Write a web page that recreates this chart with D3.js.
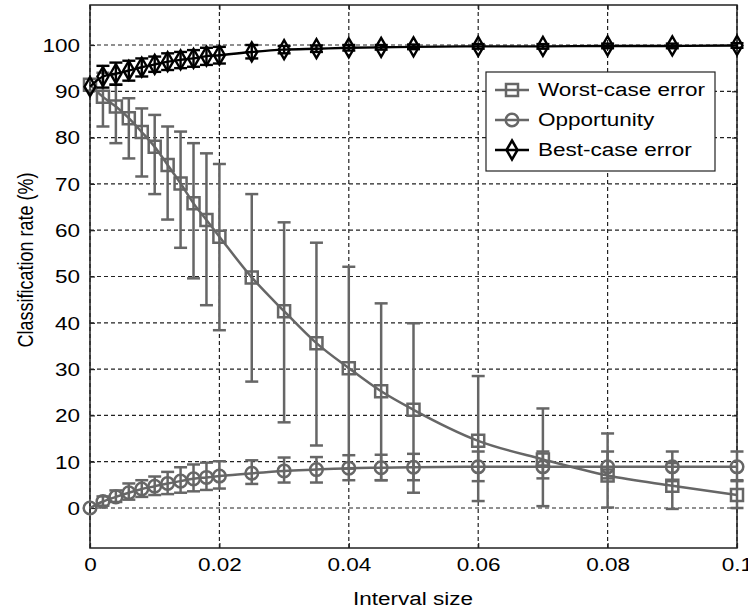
<!DOCTYPE html>
<html>
<head>
<meta charset="utf-8">
<script src="https://cdn.jsdelivr.net/npm/d3@7"></script>
<style>
  body { margin: 0; background: #fff; }
  svg { display: block; }
  text { font-family: "Liberation Sans", Arial, Helvetica, sans-serif; fill: #000; }
</style>
</head>
<body>
<svg id="chart" width="748" height="612"></svg>
<script>
// interval sizes (x)
const intervalSize = [0, 0.002, 0.004, 0.006, 0.008, 0.010, 0.012, 0.014, 0.016, 0.018, 0.020,
  0.025, 0.030, 0.035, 0.040, 0.045, 0.050, 0.060, 0.070, 0.080, 0.090, 0.100];

// worst-case error
const worstMean = [91.4, 88.8, 86.7, 84.2, 81.2, 78.0, 74.1, 70.1, 65.8, 62.2, 58.6,
  49.8, 42.5, 35.6, 30.2, 25.2, 21.2, 14.5, 10.5, 7.0, 4.8, 2.8];
const worstLow = [91.4, 82.4, 78.8, 75.5, 71.6, 67.8, 62.3, 56.2, 49.6, 43.8, 38.4,
  27.3, 18.5, 13.5, 8.5, 6.0, 3.3, 1.5, 0.4, 0.1, -0.2, 0.0];
const worstHigh = [91.4, 94.0, 91.5, 88.5, 86.3, 84.9, 82.4, 81.3, 78.8, 76.6, 74.3,
  67.8, 61.7, 57.3, 52.1, 44.2, 39.9, 28.5, 21.5, 16.1, 9.7, 6.0];

// opportunity
const oppMean = [0, 1.4, 2.4, 3.3, 4.1, 4.7, 5.3, 5.8, 6.3, 6.6, 6.9,
  7.5, 8.0, 8.3, 8.6, 8.7, 8.8, 8.9, 8.9, 8.9, 8.9, 8.9];
const oppLow = [0, 0.5, 1.3, 1.8, 2.4, 2.8, 3.0, 3.3, 3.6, 3.9, 4.2,
  5.2, 5.5, 5.5, 6.0, 6.0, 6.0, 5.8, 6.4, 6.4, 5.8, 5.8];
const oppHigh = [0, 2.5, 3.8, 5.3, 6.0, 6.8, 7.8, 8.8, 9.4, 9.8, 10.1,
  10.3, 10.9, 11.0, 11.4, 11.5, 11.7, 12.2, 12.2, 12.2, 12.2, 12.2];

// best-case error
const bestMean = [91.0, 93.2, 93.8, 94.5, 95.2, 95.8, 96.4, 96.8, 97.1, 97.6, 97.8,
  98.5, 99.0, 99.2, 99.4, 99.5, 99.6, 99.7, 99.7, 99.8, 99.8, 99.9];
const bestLow = [91.0, 90.8, 91.4, 92.3, 93.2, 94.2, 94.6, 95.0, 95.3, 95.7, 96.0,
  97.1, 98.2, 98.5, 98.8, 99.0, 99.1, 99.2, 99.2, 99.3, 99.3, 99.4];
const bestHigh = [91.0, 95.5, 96.2, 96.6, 97.1, 97.5, 98.2, 98.5, 98.9, 99.4, 99.6,
  100.0, 99.8, 99.9, 100.0, 100.0, 100.1, 100.2, 100.2, 100.3, 100.3, 100.4];

const seriesNames = ["Worst-case error", "Opportunity", "Best-case error"];
const xTicks = [0, 0.02, 0.04, 0.06, 0.08, 0.1];
const yTicks = [0, 10, 20, 30, 40, 50, 60, 70, 80, 90, 100];

const plot = { left: 90, right: 737, top: 5, bottom: 548 };
const sx = 1.25;            // the source figure is stretched horizontally
const gray = "#666666";
const fontSize = 18;

const svg = d3.select("#chart");

const x = d3.scaleLinear().domain([0, 0.1]).range([plot.left, plot.right]);
const y = d3.scaleLinear().domain([-8.64, 108.64]).range([plot.bottom, plot.top]);

// grid
const grid = svg.append("g")
  .attr("stroke", "#222")
  .attr("stroke-width", 1.2)
  .attr("stroke-dasharray", "4,3");

grid.selectAll("line.gy")
  .data(yTicks)
  .enter()
  .append("line")
  .attr("class", "gy")
  .attr("x1", plot.left).attr("x2", plot.right)
  .attr("y1", d => y(d)).attr("y2", d => y(d));

grid.selectAll("line.gx")
  .data(xTicks)
  .enter()
  .append("line")
  .attr("class", "gx")
  .attr("x1", d => x(d)).attr("x2", d => x(d))
  .attr("y1", plot.top).attr("y2", plot.bottom);

// axes
const fmtX = d => d === 0 ? "0" : String(+d.toFixed(2));

const yAxis = svg.append("g")
  .attr("transform", `translate(${plot.left},0)`)
  .call(d3.axisLeft(y).tickValues(yTicks).tickSizeInner(-5).tickSizeOuter(0).tickPadding(0));

yAxis.selectAll("text")
  .attr("x", null)
  .attr("dy", "0.35em")
  .attr("font-size", fontSize)
  .attr("transform", `translate(-10,0) scale(${sx},1)`);

const xAxis = svg.append("g")
  .attr("transform", `translate(0,${plot.bottom})`)
  .call(d3.axisBottom(x).tickValues(xTicks).tickFormat(fmtX).tickSizeInner(-5).tickSizeOuter(0));

xAxis.selectAll("text")
  .attr("y", null)
  .attr("dy", null)
  .attr("font-size", fontSize)
  .attr("transform", `translate(0,23) scale(${sx},1)`);

svg.append("g")
  .attr("transform", `translate(${plot.right},0)`)
  .call(d3.axisRight(y).tickValues(yTicks).tickSizeInner(-5).tickSizeOuter(0).tickFormat(""));

svg.append("g")
  .attr("transform", `translate(0,${plot.top})`)
  .call(d3.axisTop(x).tickValues(xTicks).tickSizeInner(-5).tickSizeOuter(0).tickFormat(""));

svg.selectAll(".domain").remove();
svg.selectAll(".tick line").attr("stroke", "#222").attr("stroke-width", 1.2);

svg.append("rect")
  .attr("x", plot.left).attr("y", plot.top)
  .attr("width", plot.right - plot.left).attr("height", plot.bottom - plot.top)
  .attr("fill", "none")
  .attr("stroke", "#222")
  .attr("stroke-width", 1.5);

// axis titles
svg.append("text")
  .attr("text-anchor", "middle")
  .attr("font-size", fontSize)
  .attr("transform", `translate(413,605) scale(${sx},1)`)
  .text("Interval size");

svg.append("text")
  .attr("text-anchor", "middle")
  .attr("font-size", fontSize)
  .attr("transform", `translate(33,260) scale(${sx},1) rotate(-90)`)
  .text("Classification rate (%)");

// markers
const squarePath = "M-6,-6H6V6H-6Z";
const diamondPath = "M0,-9.5L5.5,0L0,9.5L-5.5,0Z";

const drawMarker = (sel, kind) => {
  if (kind === "circle") {
    sel.append("circle").attr("r", 6.3);
  } else {
    sel.append("path").attr("d", kind === "square" ? squarePath : diamondPath);
  }
};

const line = d3.line()
  .x(d => x(d.x))
  .y(d => y(d.v))
  .curve(d3.curveMonotoneX);

const drawSeries = (mean, low, high, color, kind, width) => {
  const rows = intervalSize.map((v, i) => ({ x: v, v: mean[i], lo: low[i], hi: high[i] }));
  const g = svg.append("g")
    .attr("stroke", color)
    .attr("stroke-width", width)
    .attr("fill", "none");

  const bars = g.selectAll("g.err")
    .data(rows.filter(d => d.hi > d.lo))
    .enter()
    .append("g")
    .attr("class", "err");

  bars.append("line")
    .attr("x1", d => x(d.x)).attr("x2", d => x(d.x))
    .attr("y1", d => y(d.lo)).attr("y2", d => y(d.hi));
  bars.append("line")
    .attr("x1", d => x(d.x) - 6.5).attr("x2", d => x(d.x) + 6.5)
    .attr("y1", d => y(d.lo)).attr("y2", d => y(d.lo));
  bars.append("line")
    .attr("x1", d => x(d.x) - 6.5).attr("x2", d => x(d.x) + 6.5)
    .attr("y1", d => y(d.hi)).attr("y2", d => y(d.hi));

  g.append("path").attr("d", line(rows));

  g.selectAll("g.mk")
    .data(rows)
    .enter()
    .append("g")
    .attr("class", "mk")
    .attr("transform", d => `translate(${x(d.x)},${y(d.v)})`)
    .each(function() { drawMarker(d3.select(this), kind); });
};

drawSeries(worstMean, worstLow, worstHigh, gray, "square", 2.5);
drawSeries(oppMean, oppLow, oppHigh, gray, "circle", 2.5);
drawSeries(bestMean, bestLow, bestHigh, "#000", "diamond", 2.4);

// legend
const legendItems = [
  { name: seriesNames[0], color: gray, kind: "square" },
  { name: seriesNames[1], color: gray, kind: "circle" },
  { name: seriesNames[2], color: "#000", kind: "diamond" }
];

const legend = svg.append("g").attr("transform", "translate(486,72)");

legend.append("rect")
  .attr("width", 229).attr("height", 99)
  .attr("fill", "#fff")
  .attr("stroke", "#222")
  .attr("stroke-width", 1.2);

const entries = legend.selectAll("g.entry")
  .data(legendItems)
  .enter()
  .append("g")
  .attr("class", "entry")
  .attr("transform", (d, i) => `translate(0,${18 + i * 30})`);

entries.append("line")
  .attr("x1", 9).attr("x2", 43)
  .attr("stroke", d => d.color)
  .attr("stroke-width", 2.5);

entries.append("g")
  .attr("transform", "translate(26,0)")
  .attr("stroke", d => d.color)
  .attr("stroke-width", 2.5)
  .attr("fill", "none")
  .each(function(d) { drawMarker(d3.select(this), d.kind); });

entries.append("text")
  .attr("dy", "0.35em")
  .attr("font-size", fontSize)
  .attr("transform", `translate(52,0) scale(${sx},1)`)
  .text(d => d.name);
</script>
</body>
</html>
